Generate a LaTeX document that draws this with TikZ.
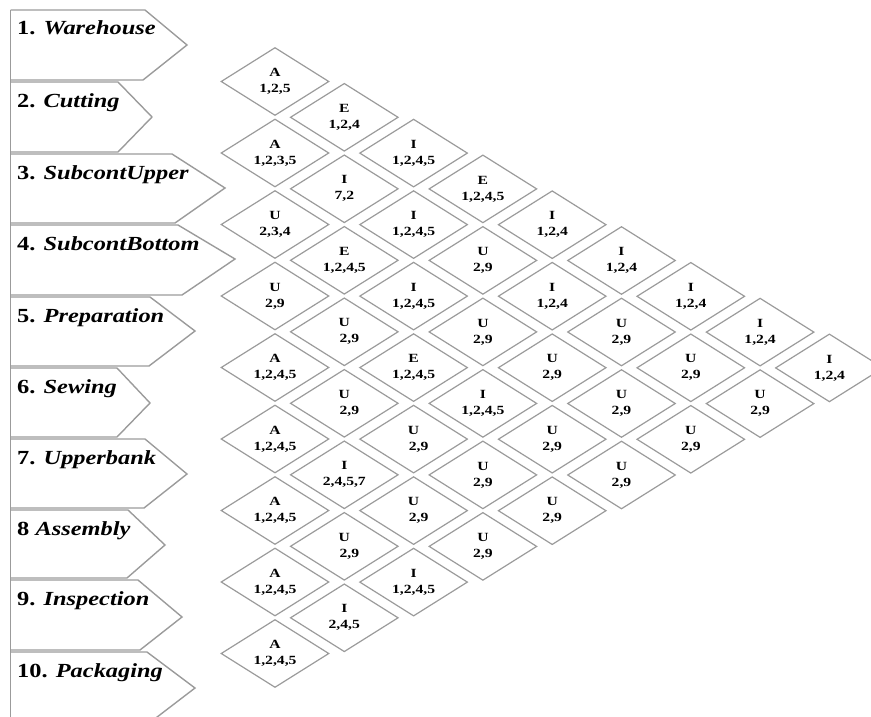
\documentclass[tikz,border=0pt]{standalone}
\usepackage{fontspec}
\setmainfont{Liberation Serif}
\usetikzlibrary{shapes.geometric}
\definecolor{edgegray}{RGB}{155,155,155}
\tikzset{
  relbox/.style={shape=diamond, draw=edgegray, line width=1.2pt,
    minimum width=108pt, minimum height=68pt, inner sep=0pt, shape aspect=1.6,
    align=center, font=\bfseries\fontsize{12.5}{16}\selectfont},
  deptname/.style={anchor=base west, inner sep=0pt,
    font=\bfseries\fontsize{20}{24}\selectfont},
  deptarrow/.style={draw=edgegray, line width=1.4pt, line join=miter},
}
% wide setting of the chart lettering
\newcommand\widetext[2]{\scalebox{#1}[1]{#2}}
% one relationship cell: column, position in column, rating, reasons
\newcommand\relcell[4]{%
  \node[relbox] (r#1-#2) at ({275+(#1-1)*69.3},{81.5+(#1-1)*35.8+(#2-1)*71.5})
    {\widetext{1.25}{#3}\\\widetext{1.25}{#4}};}
\newcommand\shiftnum{\hspace*{8pt}}
\begin{document}
\begin{tikzpicture}[x=1pt,y=-1pt]
\clip (0,0) rectangle (871,717);

% department arrows down the left side
\draw[deptarrow] (10.7,10) -- (10.7,720);
\foreach \n/\t/\a/\px/\py/\b/\bt/\lab in {
  1/10/145/187/45/143/80/{1. \textit{Warehouse}},
  2/82/118/152/117/118/152/{2. \textit{Cutting}},
  3/154/172/225/188/175/223/{3. \textit{SubcontUpper}},
  4/225/178/235/259/182/295/{4. \textit{SubcontBottom}},
  5/297/150/195/331/149/366/{5. \textit{Preparation}},
  6/368/117/150/403/117/437/{6. \textit{Sewing}},
  7/439/145/187/474/144/508/{7. \textit{Upperbank}},
  8/510/128/165/545/127/578/{8 \textit{Assembly}},
  9/580/138/182/617/140/650/{9. \textit{Inspection}},
  10/652/147/195/688/148/724/{10. \textit{Packaging}}}
{
  \draw[deptarrow] (10.7,\t) -- (\a,\t) -- (\px,\py) -- (\b,\bt) -- (10.7,\bt);
  \node[deptname] (dept\n) at (17,{\t+25}) {\widetext{1.22}{\lab}};
}

% relationship chart cells
\relcell{1}{1}{A}{1,2,5}
\relcell{1}{2}{A}{1,2,3,5}
\relcell{1}{3}{U}{2,3,4}
\relcell{1}{4}{U}{2,9}
\relcell{1}{5}{A}{1,2,4,5}
\relcell{1}{6}{A}{1,2,4,5}
\relcell{1}{7}{A}{1,2,4,5}
\relcell{1}{8}{A}{1,2,4,5}
\relcell{1}{9}{A}{1,2,4,5}

\relcell{2}{1}{E}{1,2,4}
\relcell{2}{2}{I}{7,2}
\relcell{2}{3}{E}{1,2,4,5}
\relcell{2}{4}{U}{\shiftnum2,9}
\relcell{2}{5}{U}{\shiftnum2,9}
\relcell{2}{6}{I}{2,4,5,7}
\relcell{2}{7}{U}{\shiftnum2,9}
\relcell{2}{8}{I}{2,4,5}

\relcell{3}{1}{I}{1,2,4,5}
\relcell{3}{2}{I}{1,2,4,5}
\relcell{3}{3}{I}{1,2,4,5}
\relcell{3}{4}{E}{1,2,4,5}
\relcell{3}{5}{U}{\shiftnum2,9}
\relcell{3}{6}{U}{\shiftnum2,9}
\relcell{3}{7}{I}{1,2,4,5}

\relcell{4}{1}{E}{1,2,4,5}
\relcell{4}{2}{U}{2,9}
\relcell{4}{3}{U}{2,9}
\relcell{4}{4}{I}{1,2,4,5}
\relcell{4}{5}{U}{2,9}
\relcell{4}{6}{U}{2,9}

\relcell{5}{1}{I}{1,2,4}
\relcell{5}{2}{I}{1,2,4}
\relcell{5}{3}{U}{2,9}
\relcell{5}{4}{U}{2,9}
\relcell{5}{5}{U}{2,9}

\relcell{6}{1}{I}{1,2,4}
\relcell{6}{2}{U}{2,9}
\relcell{6}{3}{U}{2,9}
\relcell{6}{4}{U}{2,9}

\relcell{7}{1}{I}{1,2,4}
\relcell{7}{2}{U}{2,9}
\relcell{7}{3}{U}{2,9}

\relcell{8}{1}{I}{1,2,4}
\relcell{8}{2}{U}{2,9}

\relcell{9}{1}{I}{1,2,4}
\end{tikzpicture}
\end{document}
